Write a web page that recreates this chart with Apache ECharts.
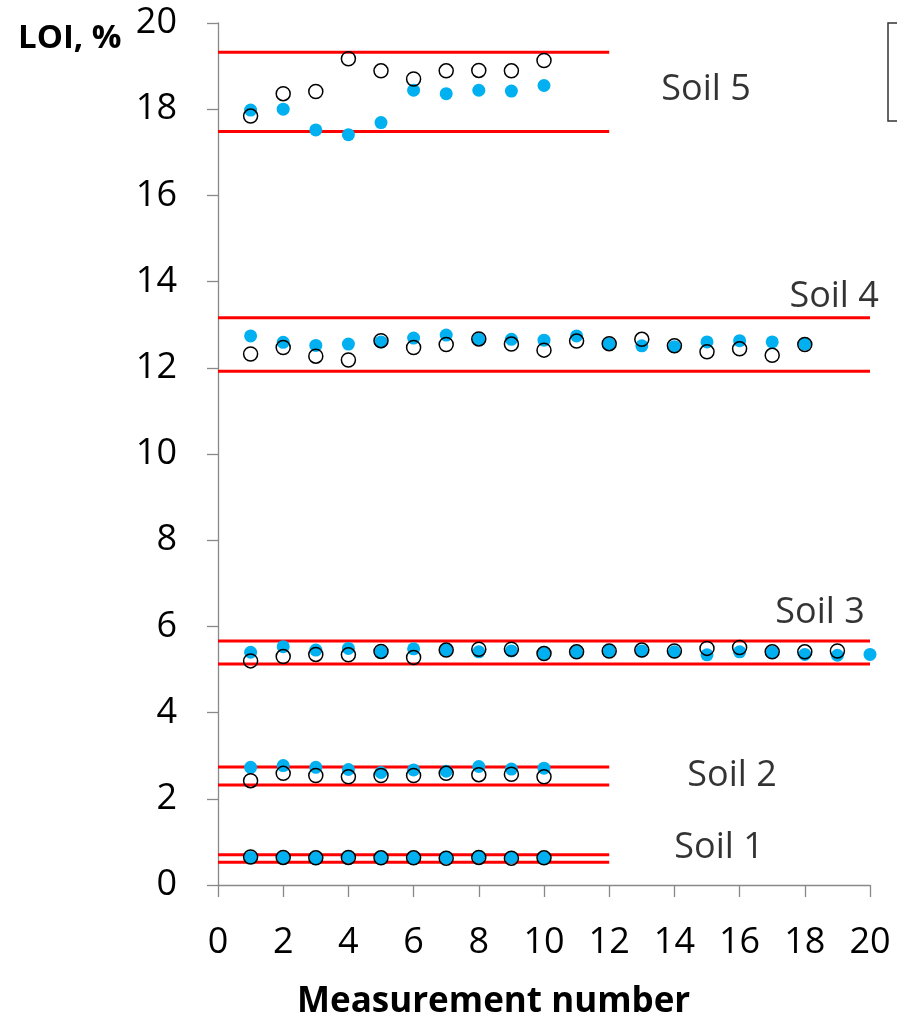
<!DOCTYPE html>
<html><head><meta charset="utf-8">
<script src="https://cdn.jsdelivr.net/npm/echarts@6/dist/echarts.min.js"></script>
<style>html,body{margin:0;padding:0;background:#fff}#c{width:897px;height:1023px}</style>
</head><body><div id="c"></div>
<script>
// ---- data ----
const xTicks = [0,2,4,6,8,10,12,14,16,18,20];
const soil1Blue = [0.64,0.64,0.63,0.65,0.63,0.63,0.63,0.65,0.64,0.63];
const soil1Open = [0.65,0.64,0.63,0.64,0.63,0.63,0.62,0.64,0.62,0.63];
const soil2Blue = [2.73,2.77,2.73,2.68,2.61,2.67,2.64,2.75,2.69,2.71];
const soil2Open = [2.42,2.59,2.54,2.51,2.54,2.54,2.59,2.56,2.57,2.51];
const soil3Blue = [5.40,5.53,5.45,5.49,5.41,5.48,5.45,5.41,5.43,5.37,5.41,5.43,5.43,5.41,5.34,5.41,5.40,5.35,5.33,5.35];
const soil3Open = [5.20,5.30,5.35,5.34,5.42,5.28,5.45,5.47,5.47,5.37,5.41,5.43,5.45,5.43,5.49,5.51,5.41,5.41,5.43];
const soil4Blue = [12.74,12.59,12.52,12.55,12.60,12.69,12.76,12.66,12.66,12.64,12.74,12.55,12.51,12.49,12.60,12.63,12.60,12.55];
const soil4Open = [12.32,12.47,12.27,12.18,12.63,12.47,12.54,12.67,12.55,12.41,12.62,12.56,12.66,12.51,12.37,12.44,12.29,12.54];
const soil5Blue = [17.98,18.00,17.52,17.41,17.69,18.44,18.36,18.44,18.42,18.55];
const soil5Open = [17.84,18.36,18.41,19.17,18.89,18.70,18.89,18.90,18.89,19.13];
// limit lines: [value, xEnd]
const limitLines = [
  [0.70,12],[0.53,12],
  [2.74,12],[2.32,12],
  [5.66,20],[5.13,20],
  [13.16,20],[11.92,20],
  [19.32,12],[17.48,12]
];
const soilNames = ['Soil 1','Soil 2','Soil 3','Soil 4','Soil 5'];
const soilLabelX = [15.37,15.77,18.47,18.90,14.97];
const soilLabelY = [0.87,2.53,6.31,13.66,18.45];
const seriesNames = ['Method A','Method B'];

// ---- build ----
function pts(arr){return arr.map((v,i)=>[i+1,v]);}
const blueData = [soil1Blue,soil2Blue,soil3Blue,soil4Blue,soil5Blue].flatMap(pts);
const openData = [soil1Open,soil2Open,soil3Open,soil4Open,soil5Open].flatMap(pts);
const FONT = '"Open Sans", sans-serif';

const series = [];
limitLines.forEach(l=>{
  series.push({type:'line',data:[[0,l[0]],[l[1],l[0]]],symbol:'none',silent:true,
    lineStyle:{color:'#ff0000',width:3},z:1,legendHoverLink:false});
});
series.push({name:seriesNames[0],type:'scatter',data:blueData,symbol:'circle',symbolSize:13,
  itemStyle:{color:'#00b0f0',opacity:1},z:3});
series.push({name:seriesNames[1],type:'scatter',data:openData,symbol:'circle',symbolSize:14,
  itemStyle:{color:'rgba(0,0,0,0)',borderColor:'#000',borderWidth:1.5,opacity:1},z:4});
series.push({type:'scatter',silent:true,symbolSize:0,z:5,
  data:soilNames.map((n,i)=>({name:n,value:[soilLabelX[i],soilLabelY[i]]})),
  label:{show:true,position:'inside',formatter:p=>p.name,color:'#000',fontFamily:FONT,fontSize:36}});

const chart = echarts.init(document.getElementById('c'),null,{renderer:'canvas'});
chart.setOption({
  animation:false,
  backgroundColor:'#ffffff',
  grid:{left:218,right:27,top:23,bottom:138,containLabel:false},
  legend:{data:seriesNames,left:888,top:23,orient:'vertical',borderColor:'#333',borderWidth:1.5,
    padding:[20,10],itemGap:28,itemHeight:14,textStyle:{fontFamily:FONT,fontSize:14}},
  xAxis:{type:'value',min:0,max:20,interval:2,
    axisLine:{lineStyle:{color:'#898989',width:1.3}},
    axisTick:{show:true,length:12,lineStyle:{color:'#898989',width:1.3}},
    splitLine:{show:false},
    axisLabel:{margin:40,color:'#000',fontFamily:FONT,fontSize:36,formatter:v=>String(v)}},
  yAxis:{type:'value',min:0,max:20,interval:2,
    axisLine:{show:true,lineStyle:{color:'#898989',width:1.3}},
    axisTick:{show:true,length:11,lineStyle:{color:'#898989',width:1.3}},
    splitLine:{show:false},
    axisLabel:{margin:41,color:'#000',fontFamily:FONT,fontSize:36}},
  graphic:[
    {type:'text',left:18,top:22,style:{text:'LOI, %',font:'bold 33px "Open Sans", sans-serif',fill:'#000'}},
    {type:'text',left:297,top:985,style:{text:'Measurement number',font:'bold 35px "Open Sans", sans-serif',fill:'#000'}}
  ],
  series:series
});
</script></body></html>
